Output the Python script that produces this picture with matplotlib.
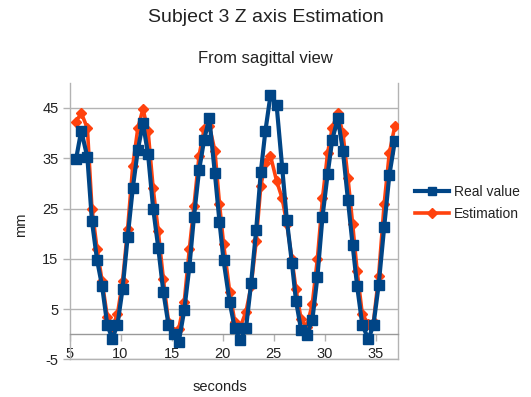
import matplotlib
matplotlib.use("Agg")
import matplotlib.pyplot as plt
from matplotlib.lines import Line2D

plt.rcParams['font.family'] = ['Liberation Sans', 'DejaVu Sans']
plt.rcParams['axes.unicode_minus'] = False

# Sample times (s)
seconds = [5.65, 6.15, 6.75, 7.2, 7.7, 8.2, 8.7, 9.2, 9.7, 10.2,
           10.7, 11.2, 11.7, 12.2, 12.7, 13.2, 13.7, 14.2, 14.7, 15.2,
           15.7, 16.25, 16.75, 17.2, 17.7, 18.2, 18.7, 19.25, 19.7, 20.1,
           20.7, 21.2, 21.75, 22.3, 22.8, 23.3, 23.75, 24.2, 24.7, 25.3,
           25.85, 26.3, 26.8, 27.2, 27.7, 28.25, 28.8, 29.3, 29.8, 30.3,
           30.75, 31.3, 31.8, 32.3, 32.75, 33.2, 33.7, 34.3, 34.8, 35.3,
           35.85, 36.35, 36.9]

# Measured Z position (mm)
real_value = [34.9, 40.5, 35.2, 22.5, 14.8, 9.5, 1.9, -0.9, 1.9, 9.0,
              19.3, 29.0, 36.7, 42.0, 35.8, 25.0, 17.2, 8.4, 1.9, 0.0,
              -1.6, 4.8, 13.4, 23.4, 32.6, 38.7, 43.0, 32.0, 22.4, 14.7,
              6.4, 1.2, -1.2, 1.2, 10.1, 20.8, 32.2, 40.4, 47.5, 45.6,
              33.1, 22.8, 14.2, 6.7, 0.9, -0.1, 2.8, 11.4, 23.4, 31.8,
              38.6, 43.0, 36.5, 26.6, 17.8, 9.5, 1.9, -1.0, 1.9, 9.7,
              21.4, 31.6, 38.5]

# Estimated Z position (mm)
estimation = [42.3, 44.0, 41.0, 25.0, 17.0, 10.5, 3.5, 1.5, 4.0, 10.5,
              21.0, 33.5, 41.0, 44.8, 40.5, 29.0, 20.5, 11.0, 2.5, 0.5,
              1.0, 6.5, 17.0, 25.5, 35.5, 40.8, 41.5, 36.5, 26.0, 18.0,
              8.5, 2.5, 1.5, 4.5, 9.5, 18.5, 29.5, 34.0, 35.5, 30.5,
              27.0, 22.0, 15.0, 9.0, 3.0, 1.5, 6.0, 15.0, 27.0, 36.0,
              41.0, 44.0, 40.0, 31.0, 22.0, 12.5, 4.0, 2.0, 2.5, 11.5,
              26.0, 36.0, 41.5]

y_ticks = [-5, 5, 15, 25, 35, 45]
x_ticks = [5, 10, 15, 20, 25, 30, 35]

BLUE = '#004586'
ORANGE = '#ff420e'
GRID = '#b3b3b3'
TEXT = '#222222'

fig = plt.figure(figsize=(5.31, 3.97), dpi=100)
ax = fig.add_axes([0.1309, 0.0947, 0.6186, 0.6967])

ax.plot(seconds, estimation, color=ORANGE, lw=2.6, marker='D', ms=5.5,
        zorder=3, label='Estimation')
ax.plot(seconds, real_value, color=BLUE, lw=3.0, marker='s', ms=7,
        zorder=4, label='Real value')

ax.set_xlim(5, 37.2)
ax.set_ylim(-5, 50)
ax.set_xticks(x_ticks)
ax.set_yticks(y_ticks)

ax.yaxis.grid(True, color=GRID, lw=1.0, zorder=0)
ax.set_axisbelow(True)

# horizontal axis crosses at zero
ax.spines['bottom'].set_position(('data', 0))
ax.spines['top'].set_visible(False)
for s in ax.spines.values():
    s.set_color(GRID)
    s.set_linewidth(1.0)
ax.spines['bottom'].set_color('#999999')
ax.axhline(-5, color=GRID, lw=1.0, zorder=1, clip_on=False)

ax.tick_params(axis='both', colors=GRID, labelcolor=TEXT, labelsize=10.5,
               direction='out', length=5, width=1)
ax.tick_params(axis='x', pad=4)
ax.tick_params(axis='y', pad=3)

fig.text(0.5, 1 - 17 / 397, 'Subject 3 Z axis Estimation', ha='center',
         va='center', fontsize=14, color=TEXT)
fig.text(0.5, 1 - 58 / 397, 'From sagittal view', ha='center',
         va='center', fontsize=12, color=TEXT)
fig.text(220 / 531, 1 - 387 / 397, 'seconds', ha='center', va='center',
         fontsize=10.5, color=TEXT)
fig.text(21 / 531, 1 - 225 / 397, 'mm', ha='center', va='center',
         rotation=90, fontsize=10.5, color=TEXT)

handles = [Line2D([], [], color=BLUE, lw=3.0, marker='s', ms=6),
           Line2D([], [], color=ORANGE, lw=2.6, marker='D', ms=5)]
fig.legend(handles, ['Real value', 'Estimation'], loc='center left',
           bbox_to_anchor=(409 / 531, 1 - 203 / 397), frameon=False,
           fontsize=10, handlelength=2.5, handletextpad=0.35,
           labelspacing=0.55, labelcolor=TEXT, borderaxespad=0,
           borderpad=0.4)

fig.savefig('out.png', dpi=100)
